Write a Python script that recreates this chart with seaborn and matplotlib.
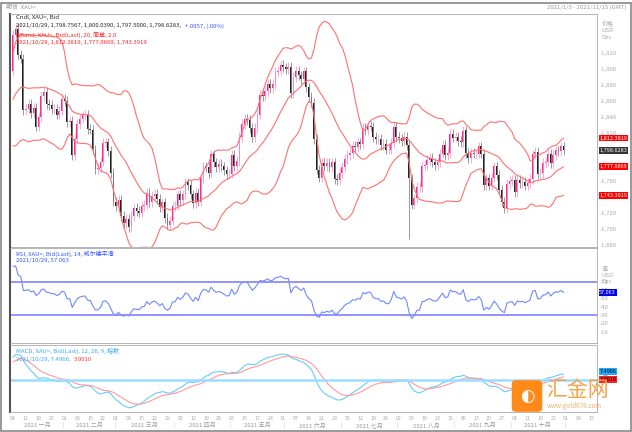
import numpy as np
import pandas as pd
import matplotlib
matplotlib.use("Agg")
import matplotlib.pyplot as plt
from matplotlib.patches import FancyBboxPatch, Rectangle
import seaborn as sns

sns.set_style("white")
plt.rcParams['font.family'] = ['Noto Sans CJK SC', 'DejaVu Sans']

# last 20 closes of Dec 2020, only used as lookback for the indicators
LOOKBACK = [1781, 1812, 1830, 1841, 1840, 1866, 1871, 1838, 1845, 1827,
            1841, 1855, 1861, 1881, 1880, 1870, 1872, 1876, 1893, 1898]

CLOSES = [
    # Jan
    1943, 1950, 1918, 1913, 1849, 1850, 1856, 1845, 1851, 1828, 1840, 1866, 1871, 1856, 1855, 1850, 1850, 1843, 1848, 1863,
    # Feb
    1860, 1834, 1835, 1792, 1812, 1831, 1838, 1842, 1843, 1825, 1824, 1799, 1775, 1776, 1784, 1807, 1808, 1797, 1770, 1734,
    # Mar
    1728, 1736, 1716, 1707, 1712, 1702, 1716, 1726, 1722, 1720, 1728, 1730, 1745, 1733, 1741, 1744, 1737, 1727, 1733, 1713, 1705, 1710, 1728,
    # Apr
    1729, 1743, 1736, 1743, 1758, 1755, 1743, 1732, 1745, 1734, 1763, 1778, 1777, 1770, 1793, 1783, 1777, 1781, 1778, 1773, 1768, 1769,
    # May
    1792, 1778, 1785, 1815, 1831, 1838, 1836, 1826, 1815, 1826, 1843, 1868, 1866, 1872, 1881, 1876, 1881, 1896, 1898, 1905, 1902,
    # Jun
    1900, 1903, 1870, 1890, 1898, 1892, 1887, 1897, 1877, 1865, 1858, 1812, 1774, 1764, 1782, 1778, 1782, 1777, 1783, 1762, 1761, 1770,
    # Jul
    1777, 1787, 1792, 1795, 1804, 1802, 1808, 1806, 1826, 1823, 1829, 1828, 1815, 1812, 1812, 1805, 1806, 1799, 1799, 1807, 1828, 1815,
    # Aug
    1813, 1810, 1815, 1805, 1763, 1730, 1738, 1752, 1752, 1779, 1780, 1786, 1789, 1783, 1780, 1783, 1794, 1805, 1792, 1795, 1819, 1814,
    # Sep
    1815, 1810, 1808, 1823, 1795, 1788, 1795, 1794, 1794, 1803, 1794, 1755, 1763, 1754, 1764, 1778, 1767, 1749, 1734, 1726, 1756, 1760,
    # Oct
    1761, 1746, 1761, 1757, 1759, 1754, 1757, 1762, 1793, 1796, 1768, 1770, 1782, 1784, 1794, 1782, 1792, 1798, 1797, 1803, 1798,
]
LOW_SPIKES = {5 + 149: 1687}   # Aug 9 flash crash
WICK = 6

MONTHS = ["2021 一月", "2021 二月", "2021 三月", "2021 四月", "2021 五月",
          "2021 六月", "2021 七月", "2021 八月", "2021 九月", "2021 十月"]
PRICE_TICKS = list(range(1680, 1940, 20))
RSI_TICKS = [10, 20, 30, 40, 50, 60, 70]

dates = pd.bdate_range("2021-01-04", periods=len(CLOSES))
full = pd.Series(LOOKBACK + CLOSES, dtype=float)
n0 = len(LOOKBACK)
idx = np.arange(len(CLOSES))
close = np.array(CLOSES, float)
opens = full.shift(1).values[n0:]
highs = np.maximum(opens, close) + WICK
lows = np.minimum(opens, close) - WICK
for k, v in LOW_SPIKES.items():
    lows[k] = v

mid = full.rolling(20).mean()
sd = full.rolling(20).std(ddof=0)
upper = (mid + 2 * sd).values[n0:]
lower = (mid - 2 * sd).values[n0:]
mid = mid.values[n0:]

delta = full.diff()
gain = delta.clip(lower=0).ewm(alpha=1 / 14, adjust=False).mean()
loss = (-delta.clip(upper=0)).ewm(alpha=1 / 14, adjust=False).mean()
rsi = (100 - 100 / (1 + gain / loss)).values[n0:]

macd = full.ewm(span=12, adjust=False).mean() - full.ewm(span=26, adjust=False).mean()
signal = macd.ewm(span=9, adjust=False).mean()
macd = macd.values[n0:]
signal = signal.values[n0:]

W, H = 632, 432
fig = plt.figure(figsize=(W / 100, H / 100), dpi=100)

def px_axes(x0, y0, x1, y1):
    return fig.add_axes([x0 / W, 1 - y1 / H, (x1 - x0) / W, (y1 - y0) / H])

def style_spines(a):
    for s in a.spines.values():
        s.set_color("#aaaaaa")
        s.set_linewidth(0.6)
    a.spines["left"].set_color("#555555")
    a.spines["left"].set_linewidth(1.5)

XL = (-1.2, 227)
RED = "#ff7070"
small = 4.3

# top strip
fig.text(6 / W, 1 - 7 / H, "期货  XAU=", fontsize=small, color="#999999", va="center")
fig.text(626 / W, 1 - 7 / H, "2021/1/3 - 2021/11/15 (GMT)", fontsize=small, color="#999999",
         va="center", ha="right")
fig.add_artist(Rectangle((1 / W, 1 / H), 630 / W, 428 / H, transform=fig.transFigure,
                         fill=False, ec="#888888", lw=1.2))

# ---- price panel
ax = px_axes(10, 14, 597, 247)
up = close >= opens
ax.vlines(idx, lows, highs, colors=np.where(up, "#ff99cc", "#888888"), lw=0.6)
ax.bar(idx[up], (close - opens)[up], bottom=opens[up], width=0.7, color="#ff2a8a", lw=0)
ax.bar(idx[~up], (close - opens)[~up], bottom=opens[~up], width=0.7, color="#222222", lw=0)
for band in (upper, mid, lower):
    sns.lineplot(x=idx, y=band, ax=ax, color=RED, lw=0.8)
ax.set_xlim(*XL)
ax.set_ylim(1677, 1969)
ax.yaxis.tick_right()
ax.set_yticks(PRICE_TICKS)
ax.set_yticklabels([f"-{v:,}" for v in PRICE_TICKS])
ax.set_xticks([])
ax.tick_params(axis="y", labelsize=small, colors="#aaaaaa", length=0, pad=2)
ax.text(1.008, 0.97, "价格\nUSD\nOzs", transform=ax.transAxes, fontsize=small,
        color="#aaaaaa", va="top", linespacing=1.3)
ax.text(0.01, 0.995, "Cndl, XAU=, Bid", transform=ax.transAxes, fontsize=small, va="top")
ax.text(0.01, 0.96, "2021/10/29, 1,798.7567, 1,800.0390, 1,797.5000, 1,798.6283,",
        transform=ax.transAxes, fontsize=small, va="top")
ax.text(0.298, 0.96, "+.0057, (.00%)", transform=ax.transAxes, fontsize=small, va="top",
        color="#3355ff")
ax.text(0.01, 0.925, "BBand, XAU=, Bid(Last), 20, 简单, 2.0", transform=ax.transAxes,
        fontsize=small, va="top", color="#ff2020")
ax.text(0.01, 0.89, "2021/10/29, 1,812.3819, 1,777.0869, 1,743.3919", transform=ax.transAxes,
        fontsize=small, va="top", color="#ff2020")
for val, txt, col in [(upper[-1], "1,812.3819", "#ff0000"), (close[-1], "1,798.6283", "#333333"),
                      (mid[-1], "1,777.0869", "#ff0000"), (lower[-1], "1,743.3919", "#ff0000")]:
    ax.text(1.004, val, txt, transform=ax.get_yaxis_transform(), fontsize=small - 0.3,
            color="white", va="center", bbox=dict(boxstyle="square,pad=0.15", fc=col, ec="none"))
style_spines(ax)

# ---- RSI panel
ax2 = px_axes(10, 248, 597, 343)
sns.lineplot(x=idx, y=rsi, ax=ax2, color="#7088ff", lw=0.8)
ax2.axhline(70, color="#8a8aff", lw=1.3)
ax2.axhline(30, color="#8a8aff", lw=1.3)
ax2.set_xlim(*XL)
ax2.set_ylim(-3.6, 110.8)
ax2.yaxis.tick_right()
ax2.set_yticks(RSI_TICKS)
ax2.set_yticklabels([f"-{v}" for v in RSI_TICKS])
ax2.set_xticks([])
ax2.tick_params(axis="y", labelsize=small, colors="#aaaaaa", length=0, pad=2)
ax2.text(1.008, 0.8, "值\nUSD\nOzs", transform=ax2.transAxes, fontsize=small,
         color="#aaaaaa", va="top", linespacing=1.3)
ax2.text(0.01, 0.97, "RSI, XAU=, Bid(Last), 14, 威尔德平滑", transform=ax2.transAxes,
         fontsize=small, va="top", color="#3355ff")
ax2.text(0.01, 0.89, "2021/10/29, 57.063", transform=ax2.transAxes,
         fontsize=small, va="top", color="#3355ff")
ax2.text(1.004, rsi[-1], "57.063", transform=ax2.get_yaxis_transform(), fontsize=small - 0.3,
         color="white", va="center", bbox=dict(boxstyle="square,pad=0.15", fc="#0000ee", ec="none"))
style_spines(ax2)

# ---- MACD panel
ax3 = px_axes(10, 345, 597, 412)
sns.lineplot(x=idx, y=macd, ax=ax3, color="#66ccff", lw=0.8)
sns.lineplot(x=idx, y=signal, ax=ax3, color="#ff9999", lw=0.8)
ax3.axhline(0, color="#99ddff", lw=1.8)
ax3.set_xlim(*XL)
lo, hi = np.nanmin(macd), np.nanmax(macd)
ax3.set_ylim(lo * 1.15, hi * 1.35)
ax3.set_yticks([])
ax3.text(1.008, 0.6, "值\nUSD", transform=ax3.transAxes, fontsize=small,
         color="#aaaaaa", va="top", linespacing=1.3)
ax3.text(0.01, 0.95, "MACD, XAU=, Bid(Last), 12, 26, 9, 指数", transform=ax3.transAxes,
         fontsize=small, va="top", color="#33aaff")
ax3.text(0.01, 0.82, "2021/10/29, 7.4966,", transform=ax3.transAxes,
         fontsize=small, va="top", color="#33aaff")
ax3.text(0.109, 0.82, "3.9010", transform=ax3.transAxes,
         fontsize=small, va="top", color="#ff3333")
ax3.text(1.004, macd[-1], "7.4966", transform=ax3.get_yaxis_transform(), fontsize=small - 0.3,
         color="black", va="bottom", bbox=dict(boxstyle="square,pad=0.15", fc="#22aaff", ec="none"))
ax3.text(1.004, signal[-1], "3.9010", transform=ax3.get_yaxis_transform(), fontsize=small - 0.3,
         color="black", va="top", bbox=dict(boxstyle="square,pad=0.15", fc="#ff2222", ec="none"))
style_spines(ax3)

# date axis: Mondays, then future Mondays up to Nov 15
mondays = [i for i, d in enumerate(dates) if d.weekday() == 0]
labels = [f"{dates[i].day:02d}" for i in mondays]
n = len(CLOSES)
mondays += [n, n + 5, n + 10]
labels += ["01", "08", "15"]
ax3.set_xticks(mondays)
ax3.set_xticklabels(labels)
ax3.tick_params(axis="x", labelsize=small - 0.5, colors="#aaaaaa", length=2, pad=1)
month_id = dates.month.values
for m, name in enumerate(MONTHS, start=1):
    pos = idx[month_id == m]
    ax3.text((pos[0] + pos[-1]) / 2, -0.2, name, transform=ax3.get_xaxis_transform(),
             fontsize=small, color="#999999", ha="center", va="center")
    ax3.text(pos[-1] + 0.5, -0.2, "|", transform=ax3.get_xaxis_transform(),
             fontsize=small, color="#bbbbbb", ha="center", va="center")

# watermark
fig.add_artist(FancyBboxPatch((513 / W, 1 - 411 / H), 28 / W, 30 / H, transform=fig.transFigure,
                              boxstyle="round,pad=0.002,rounding_size=0.008", fc="#ff8a1a", ec="none"))
fig.text(527 / W, 1 - 396 / H, "◐", fontsize=12, color="white", ha="center", va="center",
         family=["DejaVu Sans"])
fig.text(546 / W, 1 - 390 / H, "汇金网", fontsize=15, color="#f5a34a", va="center")
fig.text(547 / W, 1 - 406 / H, "www.gold678.com", fontsize=4.5, color="#f0b070", va="center")

fig.savefig("out.png", dpi=100)
